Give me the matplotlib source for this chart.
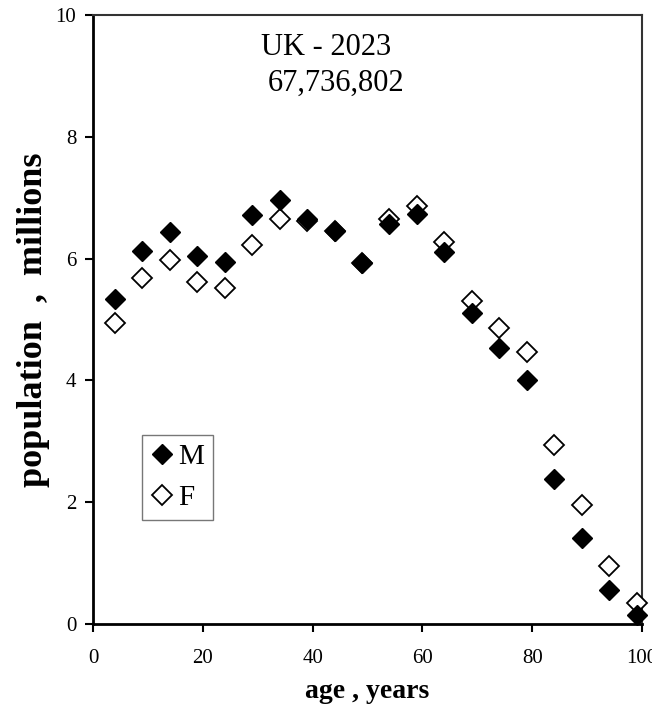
import matplotlib
matplotlib.use("Agg")
import matplotlib.pyplot as plt
from matplotlib.lines import Line2D

ages = [4, 9, 14, 19, 24, 29, 34, 39, 44, 49, 54, 59, 64, 69, 74, 79, 84, 89, 94, 99]
male = [5.33, 6.12, 6.43, 6.04, 5.94, 6.71, 6.97, 6.65, 6.46, 5.92, 6.56, 6.73, 6.11, 5.10, 4.53, 4.00, 2.38, 1.41, 0.56, 0.15]
female = [4.95, 5.68, 5.98, 5.61, 5.51, 6.22, 6.65, 6.61, 6.45, 5.92, 6.65, 6.86, 6.28, 5.31, 4.86, 4.46, 2.94, 1.95, 0.96, 0.34]
x_ticks = [0, 20, 40, 60, 80, 100]
y_ticks = [0, 2, 4, 6, 8, 10]
title_lines = ["UK - 2023", "67,736,802"]

plt.rcParams['font.family'] = ['Liberation Serif', 'DejaVu Serif']

fig = plt.figure(figsize=(6.52, 7.15), dpi=100)
ax = fig.add_axes([93/652, 1-624/715, (642-93)/652, (624-15)/715])

ax.plot(ages, female, linestyle='none', marker='D', markersize=10, markerfacecolor='white',
        markeredgecolor='black', markeredgewidth=1.3, clip_on=False, zorder=3)
ax.plot(ages, male, linestyle='none', marker='D', markersize=10, markerfacecolor='black',
        markeredgecolor='black', markeredgewidth=1.0, clip_on=False, zorder=4)

ax.set_xlim(0, 100)
ax.set_ylim(0, 10)
ax.set_xticks(x_ticks)
ax.set_yticks(y_ticks)
ax.set_xticklabels([str(t) for t in x_ticks])
ax.set_yticklabels([str(t) for t in y_ticks])
ax.tick_params(axis='both', direction='out', length=6, width=1.5, labelsize=15, colors='black')
ax.tick_params(axis='x', pad=12)
ax.tick_params(axis='y', pad=6)

for side in ['left', 'bottom']:
    ax.spines[side].set_linewidth(2.0)
    ax.spines[side].set_color('black')
for side in ['top', 'right']:
    ax.spines[side].set_linewidth(1.5)
    ax.spines[side].set_color('#333333')

ax.set_xlabel('age , years', fontsize=20, fontweight='bold', labelpad=8)
ax.set_ylabel('population  ,  millions', fontsize=26, fontweight='bold', labelpad=4)

ax.text(42.4, 9.46, title_lines[0], fontsize=22, ha='center', va='center')
ax.text(44.3, 8.88, title_lines[1], fontsize=22, ha='center', va='center')

handles = [Line2D([], [], linestyle='none', marker='D', markersize=10, markerfacecolor='black',
                  markeredgecolor='black'),
           Line2D([], [], linestyle='none', marker='D', markersize=10, markerfacecolor='white',
                  markeredgecolor='black', markeredgewidth=1.3)]
leg = ax.legend(handles, ['M', 'F'], loc='upper left', bbox_to_anchor=((142-93)/549, (624-435)/609),
                frameon=True, fancybox=False, fontsize=21, handlelength=0.8, handletextpad=0.15,
                borderpad=0.3, labelspacing=0.5, borderaxespad=0)
leg.get_frame().set_edgecolor('#555555')
leg.get_frame().set_linewidth(1.0)

fig.savefig('out.png', dpi=100)
